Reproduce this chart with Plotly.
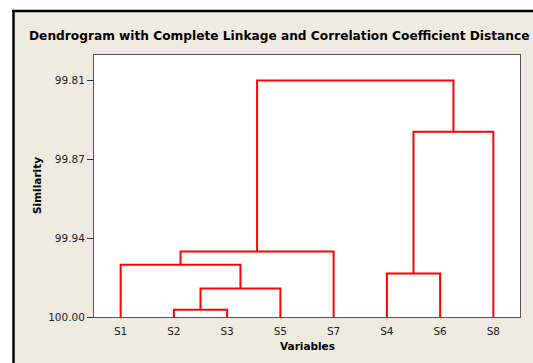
import plotly.graph_objects as go

# ---- data ----
leaves = ["S1", "S2", "S3", "S5", "S7", "S4", "S6", "S8"]
# merges: (left member, right member, similarity level)
merge_left = ["S2", "C1", "S1", "C3", "S4", "C5", "C4"]
merge_right = ["S3", "S5", "C2", "S7", "S6", "S8", "C6"]
merge_sim = [99.9941, 99.9770, 99.9580, 99.9474, 99.9650, 99.8511, 99.8099]
tick_vals = [100.0, 99.93663, 99.87327, 99.8099]
tick_text = ["100.00", "99.94", "99.87", "99.81"]

# ---- build dendrogram coordinates ----
pos = {name: i + 1 for i, name in enumerate(leaves)}
hgt = {name: 100.0 for name in leaves}
xs, ys = [], []
for k, (a, b, s) in enumerate(zip(merge_left, merge_right, merge_sim)):
    xa, xb = pos[a], pos[b]
    xs += [xa, xa, xb, xb, None]
    ys += [hgt[a], s, s, hgt[b], None]
    cname = "C%d" % (k + 1)
    pos[cname] = (xa + xb) / 2
    hgt[cname] = s

W, H = 533, 363
L, R, T, B = 94, 13, 55, 46
PW, PH = W - L - R, H - T - B


def xp(px):
    return (px - L) / PW


def yp(py):
    return (H - B - py) / PH


BEIGE = "#EFEBE1"

fig = go.Figure()
fig.add_trace(go.Scatter(x=xs, y=ys, mode="lines",
                         line=dict(color="#FF0000", width=2),
                         hoverinfo="skip", showlegend=False))

fig.update_layout(
    width=W, height=H,
    margin=dict(l=L, r=R, t=T, b=B, pad=0),
    paper_bgcolor=BEIGE, plot_bgcolor="white",
    showlegend=False,
    xaxis=dict(range=[0.5, 8.5], tickvals=list(range(1, 9)), ticktext=leaves,
               showgrid=False, zeroline=False, showline=True, mirror=True,
               linecolor="#555555", linewidth=1, ticks="", ticklabelstandoff=4,
               tickfont=dict(family="DejaVu Sans", size=10.5, color="#222222")),
    yaxis=dict(range=[100.0, 99.7894], tickvals=tick_vals, ticktext=tick_text,
               showgrid=False, zeroline=False, showline=True, mirror=True,
               linecolor="#555555", linewidth=1, ticks="outside", ticklen=6,
               tickcolor="#333333",
               tickfont=dict(family="DejaVu Sans", size=10.5, color="#222222")),
    shapes=[
        dict(type="rect", xref="paper", yref="paper", x0=xp(-5), x1=xp(12.5),
             y0=yp(370), y1=yp(-5), fillcolor="white", line=dict(width=0), layer="below"),
        dict(type="rect", xref="paper", yref="paper", x0=xp(-5), x1=xp(540),
             y0=yp(10), y1=yp(-5), fillcolor="white", line=dict(width=0), layer="below"),
        dict(type="line", xref="paper", yref="paper", x0=xp(13.5), x1=xp(13.5),
             y0=yp(10), y1=yp(370), line=dict(color="black", width=2.5)),
        dict(type="line", xref="paper", yref="paper", x0=xp(12), x1=xp(540),
             y0=yp(11), y1=yp(11), line=dict(color="black", width=2.5)),
    ],
    annotations=[
        dict(text="<b>Dendrogram with Complete Linkage and Correlation Coefficient Distance</b>",
             xref="paper", yref="paper", x=xp(278.5), y=yp(36),
             xanchor="center", yanchor="middle", showarrow=False,
             font=dict(family="DejaVu Sans", size=12.2, color="black")),
        dict(text="<b>Similarity</b>", xref="paper", yref="paper",
             x=xp(37), y=0.5, xanchor="center", yanchor="middle", textangle=-90,
             showarrow=False, font=dict(family="DejaVu Sans", size=10.5, color="black")),
        dict(text="<b>Variables</b>", xref="paper", yref="paper",
             x=0.5, y=yp(346), xanchor="center", yanchor="middle",
             showarrow=False, font=dict(family="DejaVu Sans", size=10.5, color="black")),
    ],
)

fig.write_html("out.html",
               config={"displayModeBar": False},
               post_script="document.body.style.margin='0';"
                           "document.documentElement.style.overflow='hidden';")
